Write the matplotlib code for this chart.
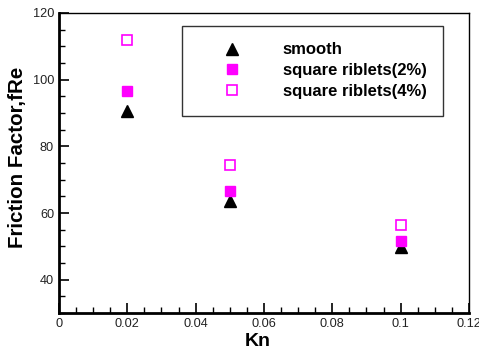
import matplotlib
matplotlib.use('Agg')
import matplotlib.pyplot as plt
from matplotlib.ticker import MultipleLocator

plt.rcParams['font.family'] = ['Liberation Sans', 'DejaVu Sans']

kn = [0.02, 0.05, 0.1]
smooth = [90.5, 63.6, 49.7]
riblets2 = [96.6, 66.7, 51.5]
riblets4 = [111.8, 74.3, 56.4]

fig = plt.figure(figsize=(4.79, 3.57), dpi=100)
ax = fig.add_axes([0.123, 0.123, 0.856, 0.841])

ax.plot(kn, smooth, '^', color='black', ms=8, ls='none', label='smooth')
ax.plot(kn, riblets2, 's', color='#ff00ff', ms=7.5, ls='none', label='square riblets(2%)')
ax.plot(kn, riblets4, 's', mfc='white', mec='#ff00ff', mew=1.2, ms=7.5, ls='none',
        label='square riblets(4%)')

ax.set_xlim(0, 0.12)
ax.set_ylim(30, 120)
ax.xaxis.set_minor_locator(MultipleLocator(0.005))
ax.yaxis.set_minor_locator(MultipleLocator(5))
ax.set_xticks([0, 0.02, 0.04, 0.06, 0.08, 0.1, 0.12])
ax.set_xticklabels(['0', '0.02', '0.04', '0.06', '0.08', '0.1', '0.12'])
ax.set_yticks([40, 60, 80, 100, 120])
ax.tick_params(which='major', direction='in', length=7, width=1.2, labelsize=9.2,
               labelcolor='#222222', top=False, right=False)
ax.tick_params(which='minor', direction='in', length=4, width=1.0, top=False, right=False)

for s in ['left', 'bottom']:
    ax.spines[s].set_linewidth(2)
for s in ['top', 'right']:
    ax.spines[s].set_linewidth(1)

ax.set_xlabel('Kn', fontsize=14, fontweight='bold', labelpad=2, x=0.485)
ax.set_ylabel('Friction Factor,fRe', fontsize=14.8, fontweight='bold', labelpad=4, y=0.517)

leg = ax.legend(loc='upper left', bbox_to_anchor=(0.3, 0.957), frameon=True, fancybox=False,
                edgecolor='black', prop={'weight': 'bold', 'size': 12}, handletextpad=1.06,
                borderpad=1.0, labelspacing=0.35, borderaxespad=0, handlelength=4.0)
leg.get_frame().set_linewidth(1)

fig.savefig('out.png', dpi=100)
